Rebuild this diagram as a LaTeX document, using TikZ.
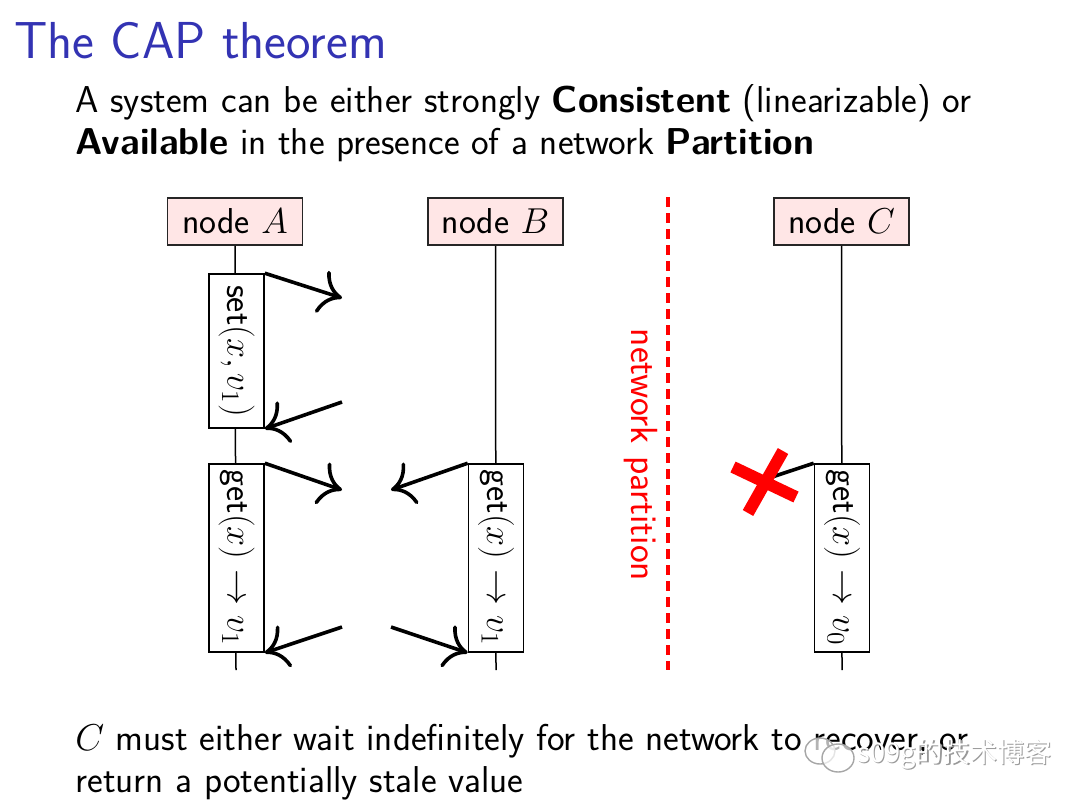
\RequirePackage{fix-cm}
\documentclass[tikz,border=0pt]{standalone}
\usepackage{fontspec}
\usetikzlibrary{arrows.meta}
\newfontfamily\cjkwm{Noto Sans CJK SC}
\definecolor{titleblue}{RGB}{51,51,179}
\definecolor{headfill}{RGB}{255,230,230}
\begin{document}
\begin{tikzpicture}[x=0.5pt,y=-0.5pt,
  font=\sffamily\fontsize{18}{21.5}\selectfont,
  bodytext/.style={anchor=base west, inner sep=0pt, font=\sffamily\fontsize{18.7}{22}\selectfont},
  headbox/.style={draw=black!85, line width=0.9pt, fill=headfill, minimum width=67.5pt, minimum height=23.5pt, inner sep=0pt},
  opbox/.style={draw=black, line width=0.8pt, fill=white, rotate=-90, minimum height=27.5pt, inner sep=0pt},
  life/.style={line width=0.75pt},
  msg/.style={line width=1.8pt, -{To[length=11pt,width=22pt]}},
  wmark/.style={font=\cjkwm\fontsize{13.6}{15}\selectfont, anchor=west, inner sep=0pt}]
\useasboundingbox (0,0) rectangle (1080,804);
\fill[white] (0,0) rectangle (1080,804);

% title and text
\node[bodytext, text=titleblue, font=\sffamily\fontsize{26}{30}\selectfont] (title) at (14,58) {The CAP theorem};
\node[bodytext] (l1) at (75,112) {A system can be either strongly \textbf{Consistent} (linearizable) or};
\node[bodytext] (l2) at (75,154) {\textbf{Available} in the presence of a network \textbf{Partition}};
\node[bodytext] (l3) at (75,750) {$C$ must either wait indefinitely for the network to recover, or};
\node[bodytext] (l4) at (75,792) {return a potentially stale value};

% partition
\coordinate (pt) at (668,197);
\coordinate (pb) at (668,670);
\draw[red, line width=2pt, dash pattern=on 5pt off 3pt] (pt) -- (pb);
\node[red, rotate=-90, font=\sffamily\fontsize{18.9}{22}\selectfont] (plabel) at (641,455) {network partition};

% heads
\node[headbox] (hA) at (235,221.5) {node $A$};
\node[headbox] (hB) at (495.5,221.5) {node $B$};
\node[headbox] (hC) at (841.5,221.5) {node $C$};

% lifelines
\coordinate (eA) at (236,670);
\coordinate (eB) at (496,670);
\coordinate (eC) at (842,670);
\draw[life] (hA.south) -- (eA);
\draw[life] (hB.south) -- (eB);
\draw[life] (hC.south) -- (eC);

% operation boxes
\node[opbox, minimum width=77pt] (sA) at (236.5,351) {set$(x,v_1)$};
\node[opbox, minimum width=94pt] (gA) at (236.5,558) {get$(x)\to v_1$};
\node[opbox, minimum width=94pt] (gB) at (496,558) {get$(x)\to v_1$};
\node[opbox, minimum width=94pt] (gC) at (842,558) {get$(x)\to v_0$};

% messages
\coordinate (m1) at (342,298);
\coordinate (m2) at (342,402);
\coordinate (m3) at (342,490);
\coordinate (m4) at (342,627);
\coordinate (m5) at (391,490);
\coordinate (m6) at (391,627);
\draw[msg] (sA.north west) -- (m1);
\draw[msg] (m2) -- (sA.north east);
\draw[msg] (gA.north west) -- (m3);
\draw[msg] (m4) -- (gA.north east);
\draw[msg] (gB.south west) -- (m5);
\draw[msg] (m6) -- (gB.south east);

% failed message
\coordinate (xc) at (772,477);
\draw[line width=1.8pt] (gC.south west) -- (xc);
\coordinate (xa1) at (733,467);
\coordinate (xa2) at (796,497);
\coordinate (xb1) at (783,451);
\coordinate (xb2) at (748,513);
\draw[red, line width=6pt] (xa1) -- (xa2);
\draw[red, line width=6pt] (xb1) -- (xb2);

% watermark
\draw[black!35, fill=white, fill opacity=0.7, line width=0.7pt] (820,751) ellipse [x radius=15, y radius=13];
\draw[black!35, fill=white, fill opacity=0.7, line width=0.7pt] (838,758) ellipse [x radius=16, y radius=14];
\node[wmark, text=black!40] (wmshadow) at (858.5,755.5) {s09g的技术博客};
\node[wmark, text=white] (wm) at (857,754) {s09g的技术博客};
\end{tikzpicture}
\end{document}
